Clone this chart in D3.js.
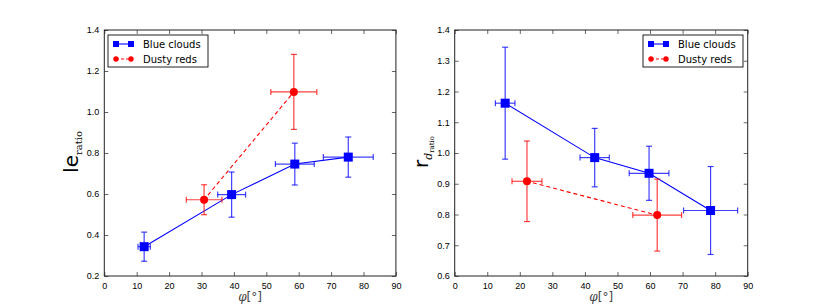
<!DOCTYPE html>
<html>
<head>
<meta charset="utf-8">
<script src="https://cdn.jsdelivr.net/npm/d3@7"></script>
<style>
  body { margin: 0; background: #fff; }
  svg { display: block; font-family: "DejaVu Sans", sans-serif; }
</style>
</head>
<body>
<div id="chart"></div>
<script>
// x values (angle phi, degrees)
const xTicks = [0, 10, 20, 30, 40, 50, 60, 70, 80, 90];

// left panel: le_ratio
const leBlueX = [12.3, 39.3, 58.8, 75.3];
const leBlueXerr = [1.9, 4.3, 6.0, 7.7];
const leBlueY = [0.343, 0.597, 0.746, 0.780];
const leBlueYerr = [0.071, 0.110, 0.102, 0.098];
const leRedX = [30.8, 58.5];
const leRedXerr = [5.5, 7.1];
const leRedY = [0.572, 1.098];
const leRedYerr = [0.073, 0.183];
const leYTicks = [0.2, 0.4, 0.6, 0.8, 1.0, 1.2, 1.4];

// right panel: r_d_ratio
const rdBlueX = [15.5, 43.0, 59.7, 78.6];
const rdBlueXerr = [3.0, 4.5, 6.1, 8.3];
const rdBlueY = [1.162, 0.985, 0.934, 0.813];
const rdBlueYerr = [0.182, 0.095, 0.088, 0.143];
const rdRedX = [22.2, 62.2];
const rdRedXerr = [4.6, 7.5];
const rdRedY = [0.908, 0.798];
const rdRedYerr = [0.131, 0.117];
const rdYTicks = [0.6, 0.7, 0.8, 0.9, 1.0, 1.1, 1.2, 1.3, 1.4];

const seriesNames = ["Blue clouds", "Dusty reds"];

const W = 830, H = 307;
const svg = d3.select("#chart").append("svg")
    .attr("width", W).attr("height", H);

const zip = (xs, xe, ys, ye) => xs.map((x, i) => ({x: x, xe: xe[i], y: ys[i], ye: ye[i]}));

function drawPanel(opt) {
    const x = d3.scaleLinear().domain([0, 90]).range([opt.left, opt.right]);
    const y = d3.scaleLinear().domain(opt.yDomain).range([opt.bottom, opt.top]);
    const g = svg.append("g");

    // ticks pointing inward on all four sides
    g.append("g").attr("transform", `translate(0,${opt.bottom})`)
        .call(d3.axisBottom(x).tickValues(xTicks).tickSize(-4).tickPadding(7).tickFormat(d3.format("d")));
    g.append("g").attr("transform", `translate(0,${opt.top})`)
        .call(d3.axisTop(x).tickValues(xTicks).tickSize(-4).tickFormat(""));
    g.append("g").attr("transform", `translate(${opt.left},0)`)
        .call(d3.axisLeft(y).tickValues(opt.yTicks).tickSize(-4).tickPadding(5).tickFormat(d3.format(".1f")));
    g.append("g").attr("transform", `translate(${opt.right},0)`)
        .call(d3.axisRight(y).tickValues(opt.yTicks).tickSize(-4).tickFormat(""));
    g.selectAll(".domain").remove();
    g.selectAll(".tick line").attr("stroke", "#000").attr("stroke-width", 0.6);
    g.selectAll(".tick text").attr("font-size", 9).attr("fill", "#000");

    const series = [
        {data: opt.blue, color: "#0000ff", dash: null, marker: "square"},
        {data: opt.red, color: "#ff0000", dash: "4,3", marker: "circle"}
    ];

    // connecting lines
    const line = d3.line().x(d => x(d.x)).y(d => y(d.y));
    series.forEach(s => {
        g.append("path").datum(s.data)
            .attr("d", line)
            .attr("fill", "none")
            .attr("stroke", s.color)
            .attr("stroke-width", 1.1)
            .attr("stroke-dasharray", s.dash)
            .attr("stroke-dashoffset", s.dash ? -6 : null);
    });

    // error bars
    const cap = 3;
    series.forEach(s => {
        const eb = g.append("g").attr("stroke", s.color).attr("stroke-width", 1.2).attr("stroke-opacity", 0.75);
        s.data.forEach(d => {
            const cx = x(d.x), cy = y(d.y);
            const x0 = x(d.x - d.xe), x1 = x(d.x + d.xe);
            const y0 = y(d.y - d.ye), y1 = y(d.y + d.ye);
            eb.append("line").attr("x1", x0).attr("x2", x1).attr("y1", cy).attr("y2", cy);
            eb.append("line").attr("x1", cx).attr("x2", cx).attr("y1", y0).attr("y2", y1);
            [x0, x1].forEach(v => eb.append("line").attr("x1", v).attr("x2", v).attr("y1", cy - cap).attr("y2", cy + cap));
            [y0, y1].forEach(v => eb.append("line").attr("x1", cx - cap).attr("x2", cx + cap).attr("y1", v).attr("y2", v));
        });
    });

    // markers
    series.forEach(s => {
        s.data.forEach(d => {
            if (s.marker === "square") {
                g.append("rect").attr("x", x(d.x) - 4.5).attr("y", y(d.y) - 4.5)
                    .attr("width", 9).attr("height", 9).attr("fill", s.color);
            } else {
                g.append("circle").attr("cx", x(d.x)).attr("cy", y(d.y)).attr("r", 4).attr("fill", s.color);
            }
        });
    });

    // frame
    g.append("rect")
        .attr("x", opt.left).attr("y", opt.top)
        .attr("width", opt.right - opt.left).attr("height", opt.bottom - opt.top)
        .attr("fill", "none").attr("stroke", "#222").attr("stroke-width", 1);

    // x label
    const xl = g.append("text")
        .attr("x", (opt.left + opt.right) / 2).attr("y", 301)
        .attr("text-anchor", "middle").attr("font-size", 12).attr("fill", "#444");
    xl.append("tspan").attr("font-family", "DejaVu Serif").attr("font-style", "italic").text("φ");
    xl.append("tspan").text("[°]");

    // y label
    const yl = g.append("text")
        .attr("transform", `translate(${opt.yLabelX},152) rotate(-90)`)
        .attr("text-anchor", "middle").attr("fill", "#000");
    opt.yLabel(yl);

    // legend
    const lg = g.append("g").attr("transform", `translate(${opt.legendX},35)`);
    lg.append("rect").attr("width", opt.legendW).attr("height", 32)
        .attr("fill", "#fff").attr("stroke", "#222").attr("stroke-width", 1);
    series.forEach((s, i) => {
        const ly = 9 + i * 15;
        lg.append("line").attr("x1", 8).attr("x2", 23).attr("y1", ly).attr("y2", ly)
            .attr("stroke", s.color).attr("stroke-width", 1.1).attr("stroke-dasharray", s.dash ? "3,2" : null);
        [8, 23].forEach(px => {
            if (s.marker === "square") {
                lg.append("rect").attr("x", px - 3).attr("y", ly - 3).attr("width", 6).attr("height", 6).attr("fill", s.color);
            } else {
                lg.append("circle").attr("cx", px).attr("cy", ly).attr("r", 2.7).attr("fill", s.color);
            }
        });
        lg.append("text").attr("x", 35).attr("y", ly + 3.8)
            .attr("font-size", 10).attr("fill", "#000").text(seriesNames[i]);
    });
}

drawPanel({
    left: 104.3, right: 395.9, top: 30, bottom: 276,
    yDomain: [0.2, 1.4], yTicks: leYTicks,
    blue: zip(leBlueX, leBlueXerr, leBlueY, leBlueYerr),
    red: zip(leRedX, leRedXerr, leRedY, leRedYerr),
    yLabelX: 78, legendX: 108, legendW: 100,
    yLabel: t => {
        t.append("tspan").attr("font-size", 20).text("le");
        t.append("tspan").attr("font-size", 10).attr("font-family", "DejaVu Serif").attr("dy", 4).text("ratio");
    }
});

drawPanel({
    left: 454.7, right: 747.7, top: 30, bottom: 276,
    yDomain: [0.6, 1.4], yTicks: rdYTicks,
    blue: zip(rdBlueX, rdBlueXerr, rdBlueY, rdBlueYerr),
    red: zip(rdRedX, rdRedXerr, rdRedY, rdRedYerr),
    yLabelX: 428, legendX: 643, legendW: 100,
    yLabel: t => {
        t.append("tspan").attr("font-size", 20).text("r");
        t.append("tspan").attr("font-size", 11).attr("font-family", "DejaVu Serif").attr("font-style", "italic").attr("dy", 4).text("d");
        t.append("tspan").attr("font-size", 7).attr("font-family", "DejaVu Serif").attr("dy", 2).text("ratio");
    }
});
</script>
</body>
</html>
